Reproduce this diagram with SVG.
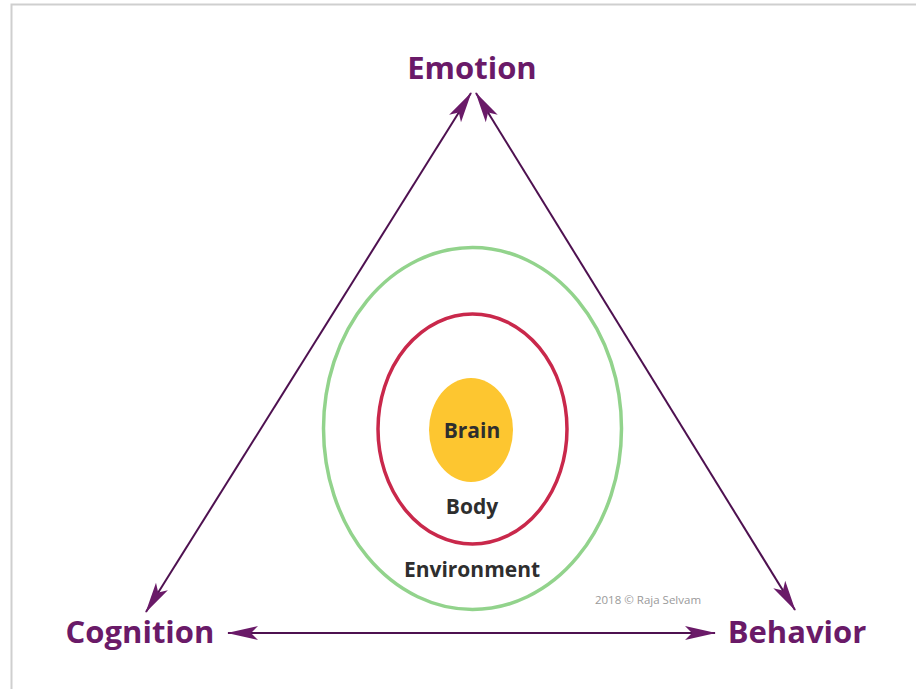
<svg xmlns="http://www.w3.org/2000/svg" width="916" height="689" viewBox="0 0 916 689">
<style>
.lbl{font-family:"Open Sans","Liberation Sans",sans-serif;font-weight:bold;fill:#6a1a68;font-size:31px;text-anchor:middle}
.in{font-family:"Open Sans","Liberation Sans",sans-serif;font-weight:bold;fill:#2e2e2e;font-size:21px;text-anchor:middle}
.conn{stroke:#4e1150;stroke-width:2;fill:none;marker-start:url(#ah);marker-end:url(#ah)}
</style>
<defs>
<marker id="ah" viewBox="-31 -8 32 16" refX="0" refY="0" markerWidth="32" markerHeight="16" markerUnits="userSpaceOnUse" orient="auto-start-reverse">
<path d="M1,0 L-30,-7 L-23,0 L-30,7 Z" fill="#6a1a68"/>
</marker>
</defs>
<rect x="0" y="0" width="916" height="689" fill="#ffffff"/>
<path d="M11.5,689 V4.5 H916" fill="none" stroke="#cfcfcf" stroke-width="2"/>
<g id="environment">
<ellipse cx="472.5" cy="428.5" rx="149" ry="181" fill="none" stroke="#92d38c" stroke-width="3.5"/>
<text class="in" x="472" y="577">Environment</text>
</g>
<g id="body">
<ellipse cx="472.5" cy="429" rx="94.5" ry="115" fill="none" stroke="#c9284b" stroke-width="3.5"/>
<text class="in" x="472" y="514">Body</text>
</g>
<g id="brain">
<ellipse cx="471" cy="430" rx="42" ry="52" fill="#fdc630"/>
<text class="in" x="472" y="438">Brain</text>
</g>
<g id="emotion"><text class="lbl" x="472" y="79">Emotion</text></g>
<g id="cognition"><text class="lbl" x="140" y="643">Cognition</text></g>
<g id="behavior"><text class="lbl" x="797" y="643">Behavior</text></g>
<g id="credit"><text x="648" y="604" font-family="'Open Sans','Liberation Sans',sans-serif" font-size="11.5" fill="#9a9a9a" text-anchor="middle">2018 © Raja Selvam</text></g>
<g id="connectors">
<line class="conn" x1="471" y1="93" x2="146" y2="612"/>
<line class="conn" x1="476" y1="93" x2="795" y2="610"/>
<line class="conn" x1="228" y1="633" x2="715" y2="633"/>
</g>
</svg>
